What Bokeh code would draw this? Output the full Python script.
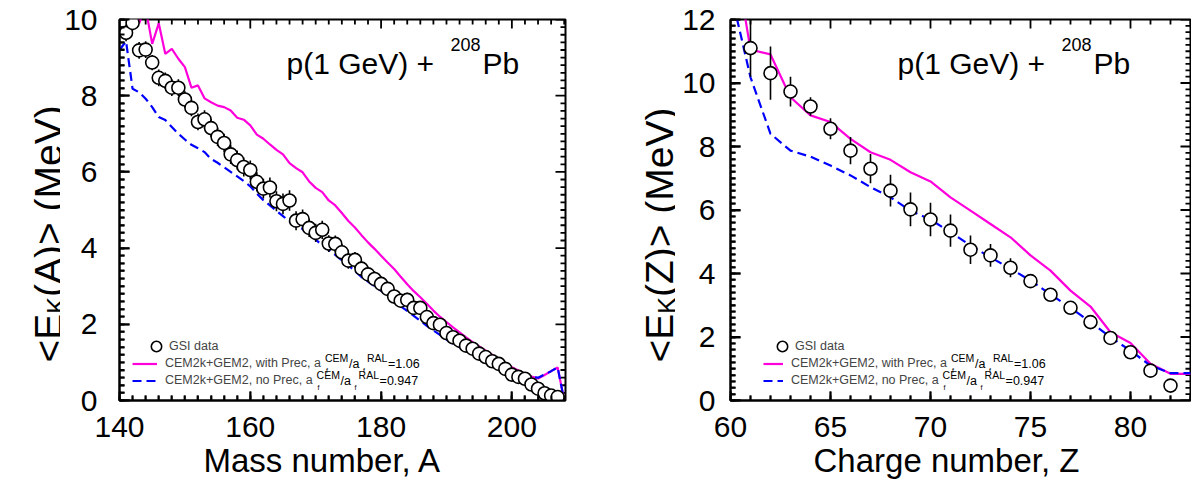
from math import pi

from bokeh.plotting import figure
from bokeh.layouts import row
from bokeh.models import (Range1d, FixedTicker, Label, Legend, LegendItem,
                          ColumnDataSource, Title)
from bokeh.embed import file_html
from bokeh.resources import INLINE

# ---------------- mean kinetic energy vs mass number A ----------------
mass_A = list(range(141, 208))
ek_A = [9.65, 9.91, 9.19, 9.21, 8.87, 8.47, 8.39, 8.21, 8.21, 7.90,
        7.68, 7.31, 7.38, 7.15, 6.92, 6.76, 6.46, 6.31, 6.13, 6.05,
        5.74, 5.56, 5.59, 5.23, 5.16, 5.25, 4.72, 4.76, 4.53, 4.40,
        4.48, 4.12, 4.11, 3.89, 3.67, 3.69, 3.46, 3.31, 3.19, 3.06,
        2.93, 2.73, 2.62, 2.64, 2.43, 2.43, 2.19, 2.03, 1.99, 1.77,
        1.66, 1.57, 1.44, 1.36, 1.23, 1.14, 1.03, 0.96, 0.83, 0.68,
        0.62, 0.57, 0.42, 0.31, 0.19, 0.13, 0.09]
ek_A_err = [0.22, 0.20, 0.22, 0.22, 0.20, 0.22, 0.22, 0.22, 0.22, 0.22,
            0.22, 0.22, 0.24, 0.24, 0.24, 0.24, 0.25, 0.25, 0.25, 0.25,
            0.25, 0.26, 0.26, 0.26, 0.27, 0.27, 0.25, 0.25, 0.24, 0.24,
            0.24, 0.22, 0.22, 0.22, 0.21, 0.21, 0.20, 0.20, 0.20, 0.20,
            0.19, 0.19, 0.19, 0.19, 0.18, 0.18, 0.18, 0.18, 0.17, 0.17,
            0.17, 0.17, 0.16, 0.16, 0.16, 0.16, 0.15, 0.15, 0.15, 0.15,
            0.14, 0.14, 0.14, 0.13, 0.12, 0.10, 0.08]

model_A_prec = list(range(142, 209))
ek_A_prec = [10.5, 9.9, 10.3, 9.36, 9.9, 9.1, 9.23, 8.97, 8.75, 8.21,
             8.27, 7.93, 7.83, 7.74, 7.70, 7.61, 7.42, 7.37, 7.22, 6.98,
             6.87, 6.72, 6.58, 6.46, 6.23, 6.10, 5.99, 5.75, 5.58, 5.47,
             5.25, 5.12, 4.92, 4.71, 4.54, 4.34, 4.15, 3.98, 3.80, 3.62,
             3.45, 3.25, 3.05, 2.87, 2.71, 2.54, 2.36, 2.20, 2.06, 1.92,
             1.79, 1.66, 1.53, 1.42, 1.31, 1.20, 1.10, 0.98, 0.87, 0.79,
             0.70, 0.63, 0.58, 0.67, 0.77, 0.87, 0.0]

model_A_noprec = list(range(140, 209))
ek_A_noprec = [9.2, 9.43, 8.18, 8.09, 7.92, 7.70, 7.44, 7.36, 7.18, 7.00,
               6.85, 6.71, 6.62, 6.52, 6.34, 6.24, 6.12, 6.00, 5.88, 5.76,
               5.62, 5.43, 5.26, 5.12, 4.98, 4.84, 4.70, 4.60, 4.50, 4.36,
               4.22, 4.08, 3.95, 3.82, 3.68, 3.55, 3.40, 3.24, 3.12, 3.00,
               2.88, 2.74, 2.60, 2.47, 2.35, 2.22, 2.09, 1.96, 1.84, 1.72,
               1.60, 1.49, 1.40, 1.31, 1.23, 1.14, 1.05, 0.96, 0.90, 0.84,
               0.79, 0.73, 0.67, 0.61, 0.60, 0.68, 0.77, 0.87, 0.0]

# ---------------- mean kinetic energy vs charge number Z ----------------
charge_Z = list(range(61, 83))
ek_Z = [11.10, 10.31, 9.73, 9.26, 8.56, 7.87, 7.30, 6.61, 6.02, 5.70,
        5.35, 4.75, 4.57, 4.18, 3.76, 3.33, 2.92, 2.47, 1.97, 1.52,
        0.94, 0.47]
ek_Z_err = [0.90, 0.84, 0.47, 0.29, 0.33, 0.43, 0.46, 0.50, 0.53, 0.53,
            0.51, 0.45, 0.36, 0.30, 0.21, 0.12, 0.10, 0.10, 0.10, 0.10,
            0.10, 0.10]

model_Z = list(range(60, 84))
ek_Z_prec = [14.85, 11.05, 10.9, 9.55, 8.98, 8.77, 8.24, 7.82, 7.58, 7.19,
             6.90, 6.40, 5.98, 5.56, 5.14, 4.57, 4.09, 3.46, 2.96, 2.15,
             1.81, 1.16, 0.84, 0.84]
ek_Z_noprec = [12.9, 10.18, 8.40, 7.87, 7.68, 7.40, 7.09, 6.72, 6.40, 5.98,
               5.70, 5.30, 4.88, 4.51, 4.15, 3.78, 3.34, 2.92, 2.47, 1.99,
               1.57, 1.10, 0.86, 0.86]

# ---------------- tick positions ----------------
A_major = [140, 160, 180, 200]
A_minor = list(range(140, 209, 2))
Z_major = [60, 65, 70, 75, 80]
Z_minor = list(range(60, 84))
EA_major = [0, 2, 4, 6, 8, 10]
EZ_major = [0, 2, 4, 6, 8, 10, 12]
EA_minor = [i / 5 for i in range(0, 51)]
EZ_minor = [i / 5 for i in range(0, 61)]

FONT = "Liberation Sans"
PINK = "#ff00dd"
BLUE = "#0000ff"
FRAME_H = 381
X_TICK, Y_TICK, MINOR_TICK = 9, 10, 5
TICK_W = 1.8


def make_panel(xr, yr, frame_w, left_border, right_border,
               xt, xmt, yt, ymt, y_standoff):
    p = figure(frame_width=frame_w, frame_height=FRAME_H,
               min_border_left=left_border, min_border_right=right_border,
               min_border_top=19, min_border_bottom=85,
               x_range=Range1d(*xr), y_range=Range1d(*yr),
               output_backend="svg", toolbar_location=None)
    p.xgrid.visible = False
    p.ygrid.visible = False
    p.outline_line_color = "black"
    p.outline_line_width = 2
    p.xaxis.ticker = FixedTicker(ticks=xt, minor_ticks=xmt)
    p.yaxis.ticker = FixedTicker(ticks=yt, minor_ticks=ymt)
    for ax in p.axis:
        ax.axis_line_width = 2
        ax.major_tick_out = 0
        ax.minor_tick_in = MINOR_TICK
        ax.minor_tick_out = 0
        ax.major_tick_line_width = TICK_W
        ax.minor_tick_line_width = TICK_W
        ax.major_tick_line_color = "black"
        ax.minor_tick_line_color = "black"
        ax.major_label_text_font = FONT
        ax.major_label_text_font_size = "30px"
        ax.major_label_text_color = "black"
    p.xaxis.major_tick_in = X_TICK
    p.yaxis.major_tick_in = Y_TICK
    p.xaxis.major_label_standoff = 16
    p.yaxis.major_label_standoff = y_standoff
    return p


def add_ticks(p, xr, yr, frame_w, xmaj, xmin, ymaj, ymin):
    # inward ticks on all four sides of the frame
    dx = (xr[1] - xr[0]) / frame_w
    dy = (yr[1] - yr[0]) / FRAME_H
    x0, y0, x1, y1 = [], [], [], []
    majx = {round(t, 6) for t in xmaj}
    majy = {round(t, 6) for t in ymaj}
    for t in list(xmaj) + [t for t in xmin if round(t, 6) not in majx]:
        n = X_TICK if round(t, 6) in majx else MINOR_TICK
        x0 += [t, t]
        x1 += [t, t]
        y0 += [yr[0], yr[1]]
        y1 += [yr[0] + n * dy, yr[1] - n * dy]
    for t in list(ymaj) + [t for t in ymin if round(t, 6) not in majy]:
        n = Y_TICK if round(t, 6) in majy else MINOR_TICK
        y0 += [t, t]
        y1 += [t, t]
        x0 += [xr[0], xr[1]]
        x1 += [xr[0] + n * dx, xr[1] - n * dx]
    src = ColumnDataSource(dict(x0=x0, y0=y0, x1=x1, y1=y1))
    p.segment(x0="x0", y0="y0", x1="x1", y1="y1", source=src,
              line_color="black", line_width=TICK_W)


def legend_block(p, circ, r_prec, r_noprec, text_x, glyph_w):
    leg_data = Legend(items=[LegendItem(label="GSI data", renderers=[circ])],
                      location=(text_x - 22, 54 - 13), orientation="vertical",
                      glyph_width=26, glyph_height=26, label_height=26,
                      label_standoff=-4, padding=0, margin=0, spacing=0,
                      border_line_alpha=0, background_fill_alpha=0,
                      label_text_font=FONT, label_text_font_size="12.5px")
    leg_model = Legend(items=[
        LegendItem(label="CEM2k+GEM2, with Prec, a", renderers=[r_prec]),
        LegendItem(label="CEM2k+GEM2, no Prec, a", renderers=[r_noprec])],
        location=(text_x - 8 - glyph_w, 20 - 8.5), orientation="vertical",
        glyph_width=glyph_w, glyph_height=17, label_height=17,
        label_standoff=8, padding=0, margin=0, spacing=0,
        border_line_alpha=0, background_fill_alpha=0,
        label_text_font=FONT, label_text_font_size="12.5px")
    p.add_layout(leg_data)
    p.add_layout(leg_model)
    # ratio a_f^CEM / a_f^RAL written after each model entry
    for sy, main_w, tail in ((37, 156.0, "=1.06"), (20, 147.6, "=0.947")):
        base = text_x + main_w
        parts = [("CEM", base + 3.5, sy + 6, "10.5px"),
                 ("f", base + 4.5, sy - 7, "7px"),
                 ("/a", base + 27.5, sy, "12.5px"),
                 ("f", base + 41.5, sy - 7, "7px"),
                 ("RAL", base + 45.5, sy + 6, "10.5px"),
                 (tail, base + 66.5, sy, "12.5px")]
        for txt, sx, yy, fs in parts:
            p.add_layout(Label(x=sx, y=yy, x_units="screen", y_units="screen",
                               text=txt, text_font=FONT, text_font_size=fs,
                               text_baseline="middle", text_align="left",
                               text_color="black"))


def reaction_label(p):
    for txt, sx, sy, fs in (("p(1 GeV) + ", 167, 337, "30px"),
                            ("208", 331, 356, "18px"),
                            ("Pb", 363, 337, "30px")):
        p.add_layout(Label(x=sx, y=sy, x_units="screen", y_units="screen",
                           text=txt, text_font=FONT, text_font_size=fs,
                           text_baseline="alphabetic", text_align="left",
                           text_color="black"))


def x_title(p, txt, offset):
    p.add_layout(Title(text=txt, align="left", offset=offset, standoff=0,
                       text_font=FONT, text_font_size="33px",
                       text_font_style="normal", text_color="black"), "below")


def draw(p, xd, yd, err, xm_prec, ym_prec, xm_noprec, ym_noprec, text_x, glyph_w):
    lo = [v - e for v, e in zip(yd, err)]
    hi = [v + e for v, e in zip(yd, err)]
    src = ColumnDataSource(dict(x=xd, y=yd, lo=lo, hi=hi))
    r_prec = p.line(xm_prec, ym_prec, line_color=PINK, line_width=2.2)
    r_noprec = p.line(xm_noprec, ym_noprec, line_color=BLUE, line_width=2.2,
                      line_dash="9 5")
    p.segment(x0="x", y0="lo", x1="x", y1="hi", source=src,
              line_color="black", line_width=1.6)
    circ = p.scatter("x", "y", source=src, marker="circle", size=13,
                     fill_color="white", line_color="black", line_width=1.6)
    legend_block(p, circ, r_prec, r_noprec, text_x, glyph_w)


def title_strip(width, var, base_x):
    # narrow canvas holding the rotated <E_K(...)> (MeV) axis title
    s = figure(frame_width=width, frame_height=485, min_border=0,
               x_range=Range1d(0, 1), y_range=Range1d(0, 1),
               x_axis_type=None, y_axis_type=None,
               output_backend="svg", toolbar_location=None)
    s.outline_line_color = None
    s.xgrid.visible = False
    s.ygrid.visible = False
    F, f = 39, 25
    w1 = 1.251 * F
    wk = 0.667 * f
    s0 = 485 - 343
    for txt, sx, sy, fs in (("<E", base_x, s0, F),
                            ("K", base_x + 7, s0 + w1, f),
                            ("(%s)> (MeV)" % var, base_x, s0 + w1 + wk, F)):
        s.add_layout(Label(x=sx, y=sy, x_units="screen", y_units="screen",
                           text=txt, text_font=FONT, text_font_size="%dpx" % fs,
                           angle=pi / 2, text_baseline="alphabetic",
                           text_align="left", text_color="black"))
    return s


# left panel
xrA, yrA = (140, 208.2), (0, 10)
pA = make_panel(xrA, yrA, 446, 59, 35, A_major, A_minor, EA_major, EA_minor, 22)
add_ticks(pA, xrA, yrA, 446, A_major, A_minor, EA_major, EA_minor)
draw(pA, mass_A, ek_A, ek_A_err, model_A_prec, ek_A_prec,
     model_A_noprec, ek_A_noprec, 46, 25)
reaction_label(pA)
x_title(pA, "Mass number, A", 84)
tA = title_strip(60, "A", 48)

# right panel
xrZ, yrZ = (60, 83), (0, 12)
pZ = make_panel(xrZ, yrZ, 460, 55, 1, Z_major, Z_minor, EZ_major, EZ_minor, 15)
add_ticks(pZ, xrZ, yrZ, 460, Z_major, Z_minor, EZ_major, EZ_minor)
draw(pZ, charge_Z, ek_Z, ek_Z_err, model_Z, ek_Z_prec,
     model_Z, ek_Z_noprec, 61, 20)
reaction_label(pZ)
x_title(pZ, "Charge number, Z", 83)
tZ = title_strip(75, "Z", 59)

layout = row(tA, pA, tZ, pZ, spacing=0)
open("out.html", "w").write(file_html(layout, INLINE))
